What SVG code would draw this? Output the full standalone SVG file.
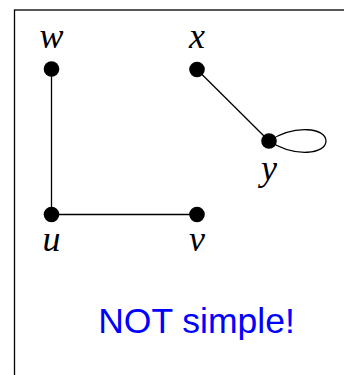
<svg xmlns="http://www.w3.org/2000/svg" width="344" height="375" viewBox="0 0 344 375">
<style>
.lbl{font-family:"Liberation Serif","Times New Roman",serif;font-style:italic;font-size:36px;fill:#000;text-anchor:middle}
.dot{fill:#000}
.edge{stroke:#000;stroke-width:1.3;fill:none}
</style>
<rect width="344" height="375" fill="#fff"/>
<rect x="14.5" y="10" width="400" height="400" fill="none" stroke="#000" stroke-width="1.3"/>
<g id="edges">
<line class="edge" x1="51.5" y1="69" x2="51.5" y2="214.5"/>
<line class="edge" x1="51.5" y1="214.5" x2="197" y2="214.5"/>
<line class="edge" x1="197" y1="69.5" x2="269" y2="141"/>
<path class="edge" d="M269,141 C295,124 326,128 326,141 C326,154 295,158 269,141"/>
</g>
<g id="node-w"><circle class="dot" cx="51.5" cy="69" r="7.8"/><text class="lbl" x="51.5" y="48">w</text></g>
<g id="node-x"><circle class="dot" cx="197" cy="69.5" r="7.8"/><text class="lbl" x="197" y="48">x</text></g>
<g id="node-y"><circle class="dot" cx="269" cy="141" r="7.8"/><text class="lbl" x="269" y="179.5">y</text></g>
<g id="node-u"><circle class="dot" cx="51.5" cy="214.5" r="7.8"/><text class="lbl" x="51.5" y="251">u</text></g>
<g id="node-v"><circle class="dot" cx="197" cy="214.5" r="7.8"/><text class="lbl" x="197" y="251">v</text></g>
<text x="196.5" y="333" font-family="Liberation Sans, Arial, sans-serif" font-size="35.5" fill="#0000ff" text-anchor="middle">NOT simple!</text>
</svg>
